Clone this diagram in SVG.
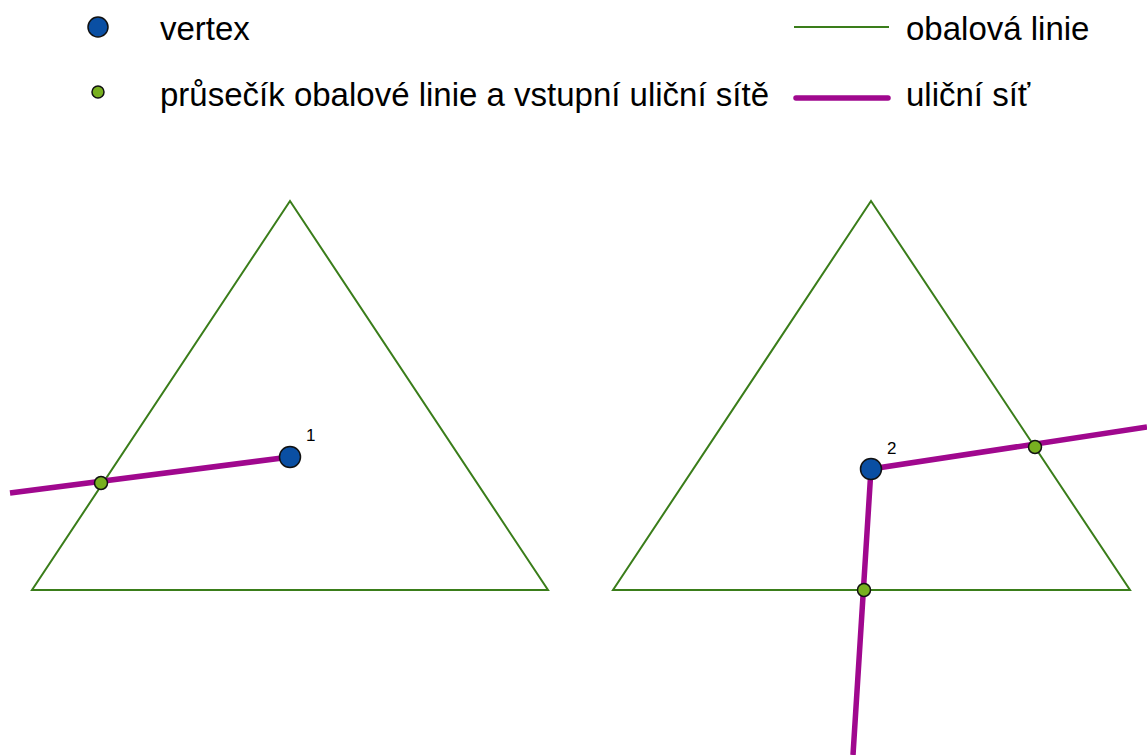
<svg xmlns="http://www.w3.org/2000/svg" width="1147" height="755" viewBox="0 0 1147 755">
<style>
.env{fill:none;stroke:#3A7D1A;stroke-width:2}
.street{fill:none;stroke:#A0088E;stroke-width:5.5}
.vtx{fill:#0A4FA3;stroke:#111;stroke-width:1.5}
.ix{fill:#78B020;stroke:#111;stroke-width:1.5}
.t{font-family:"Liberation Sans",Arial,sans-serif;fill:#000}
.leg{font-size:33px}
.lbl{font-size:17px}
</style>
<rect width="1147" height="755" fill="#fff"/>
<g id="legend">
<circle class="vtx" cx="98" cy="27" r="10"/>
<text class="t leg" x="160" y="40">vertex</text>
<circle class="ix" cx="98" cy="92" r="6"/>
<text class="t leg" x="160" y="106">průsečík obalové linie a vstupní uliční sítě</text>
<line class="env" x1="794" y1="27" x2="889" y2="27"/>
<text class="t leg" x="906" y="40">obalová linie</text>
<line class="street" x1="796" y1="98" x2="888" y2="98" stroke-linecap="round"/>
<text class="t leg" x="906" y="106">uliční síť</text>
</g>
<g id="connectors">
<polygon id="triangle1" class="env" points="290,201 32,590 548,590"/>
<polygon id="triangle2" class="env" points="871,201 613,590 1130,590"/>
<polyline class="street" points="10,493 290,457"/>
<polyline class="street" points="1147,427 871,469 853,755"/>
</g>
<g id="vertex1">
<circle class="vtx" cx="290" cy="457" r="10.5"/>
<text class="t lbl" x="306" y="441">1</text>
</g>
<g id="intersection1">
<circle class="ix" cx="101" cy="483" r="6.5"/>
</g>
<g id="vertex2">
<circle class="vtx" cx="871" cy="469" r="10.5"/>
<text class="t lbl" x="887" y="454">2</text>
</g>
<g id="intersection2">
<circle class="ix" cx="1035" cy="447" r="6.5"/>
</g>
<g id="intersection3">
<circle class="ix" cx="864" cy="590" r="6.5"/>
</g>
</svg>
